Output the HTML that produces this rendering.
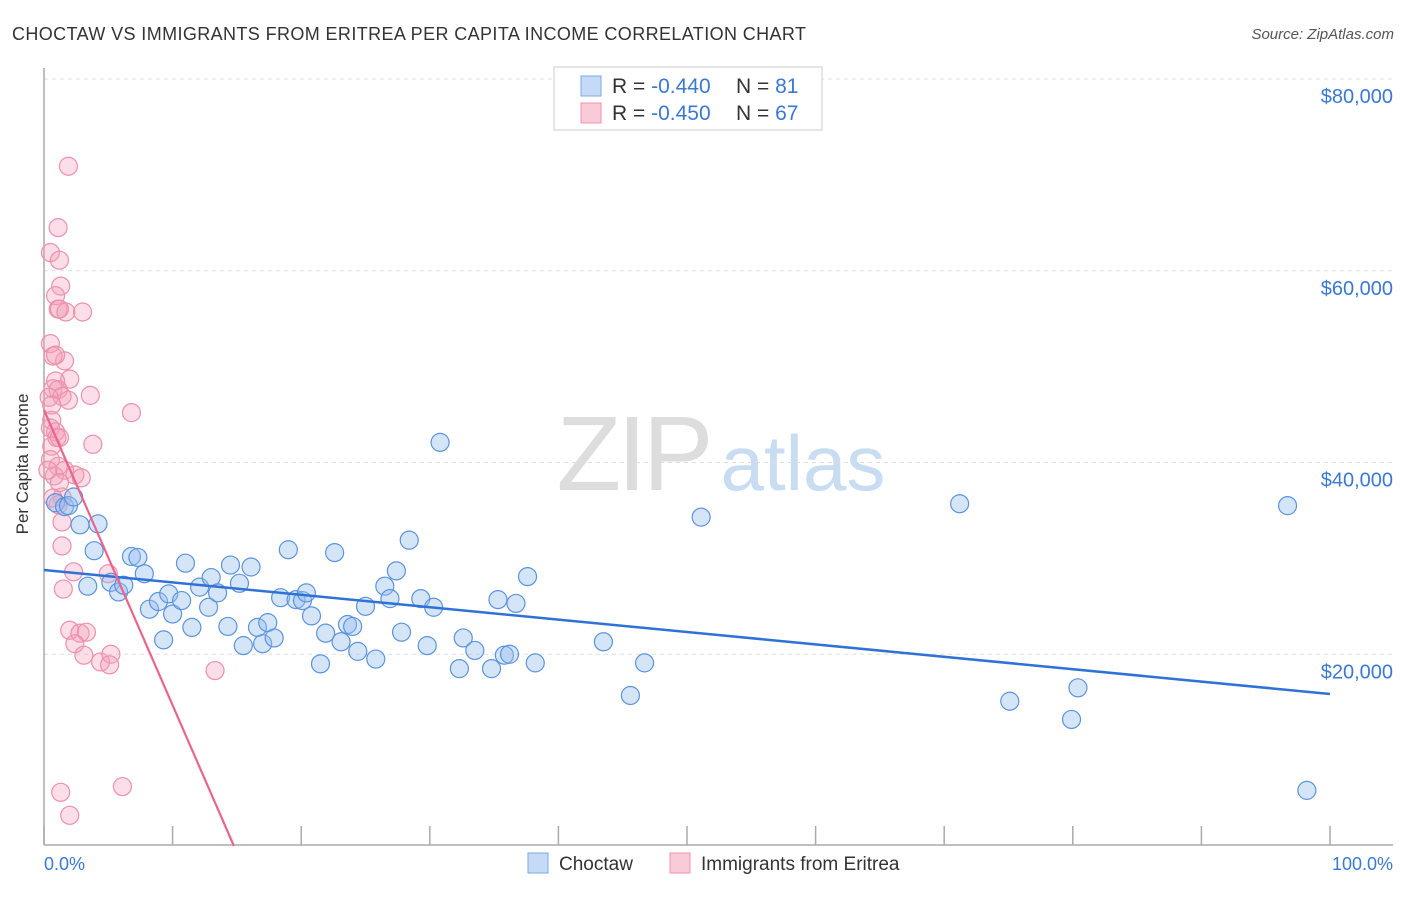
<!DOCTYPE html>
<html><head><meta charset="utf-8"><style>
body{margin:0;background:#fff;font-family:"Liberation Sans",sans-serif}
svg text{font-family:"Liberation Sans",sans-serif}
</style></head><body>
<svg width="1406" height="892" viewBox="0 0 1406 892" xmlns="http://www.w3.org/2000/svg">
<text x="12" y="40" font-size="18" fill="#333" textLength="794">CHOCTAW VS IMMIGRANTS FROM ERITREA PER CAPITA INCOME CORRELATION CHART</text>
<text x="1394" y="39" font-size="15" fill="#555" font-style="italic" text-anchor="end">Source: ZipAtlas.com</text>
<g>
<text x="633" y="490" font-size="106" fill="#ddd" font-family="Liberation Serif" text-anchor="middle" letter-spacing="-4">ZIP</text>
<text x="803" y="490" font-size="78" fill="#c8dcf2" text-anchor="middle">atlas</text>
</g>
<g id="grid"></g>
<line x1="44" y1="68" x2="44" y2="845" stroke="#aaa" stroke-width="1.5"/>
<line x1="44" y1="845" x2="1393" y2="845" stroke="#aaa" stroke-width="1.5"/>
<g id="xticks"></g>
<text x="20" y="456" font-size="17" fill="#333" text-anchor="middle" transform="rotate(-90 28 456)">Per Capita Income</text>
<text x="44" y="870" font-size="18" fill="#3a78d4">0.0%</text>
<text x="1393" y="870" font-size="18" fill="#3a78d4" text-anchor="end">100.0%</text>
<g id="pink"></g>
<g id="blue"></g>
<g id="lines"></g>
<g>
<rect x="554" y="67" width="268" height="63" fill="#fff" stroke="#ccc"/>
<rect x="581" y="76" width="20" height="20" fill="#c5dbf5" stroke="#7aaae6"/>
<rect x="581" y="103" width="20" height="20" fill="#f9cad8" stroke="#ec94b0"/>
<text x="612" y="93" font-size="21" fill="#333">R = <tspan fill="#3a78d4">-0.440</tspan><tspan x="736">N = </tspan><tspan fill="#3a78d4">81</tspan></text>
<text x="612" y="120" font-size="21" fill="#333">R = <tspan fill="#3a78d4">-0.450</tspan><tspan x="736">N = </tspan><tspan fill="#3a78d4">67</tspan></text>
</g>
<g>
<rect x="528" y="853" width="20" height="20" fill="#c5dbf5" stroke="#7aaae6"/>
<text x="559" y="870" font-size="19" fill="#333">Choctaw</text>
<rect x="670" y="853" width="20" height="20" fill="#f9cad8" stroke="#ec94b0"/>
<text x="701" y="870" font-size="19" fill="#333">Immigrants from Eritrea</text>
</g>
</svg>
<script>
const yTicks=[20000,40000,60000,80000];
const yTickLabels=["$20,000","$40,000","$60,000","$80,000"];
const xTickPct=[0,10,20,30,40,50,60,70,80,90,100];
const blueX=[0.9,1.6,1.9,2.3,2.8,4.2,3.9,3.4,5.2,5.8,6.2,6.8,7.3,7.8,8.2,8.9,9.3,9.7,10.0,10.7,11.0,11.5,12.1,12.8,13.0,13.5,14.3,14.5,15.2,15.5,16.1,16.6,17.0,17.4,17.9,18.4,19.0,19.6,20.1,20.4,20.8,21.5,21.9,22.6,23.1,23.6,24.0,24.4,25.0,25.8,26.5,26.9,27.4,27.8,28.4,29.3,29.8,30.3,30.8,32.3,32.6,33.5,34.8,35.3,35.8,36.2,36.7,37.6,38.2,43.5,45.6,46.7,51.1,71.2,75.1,79.9,80.4,96.7,98.2];
const blueY=[35.8,35.4,35.5,36.4,33.5,33.6,30.8,27.1,27.5,26.5,27.2,30.2,30.1,28.4,24.7,25.5,21.5,26.3,24.2,25.6,29.5,22.8,27.0,24.9,28.0,26.4,22.9,29.3,27.4,20.9,29.1,22.8,21.1,23.3,21.7,25.9,30.9,25.7,25.6,26.4,24.0,19.0,22.2,30.6,21.3,23.1,22.9,20.3,25.0,19.5,27.1,25.8,28.7,22.3,31.9,25.8,20.9,24.9,42.1,18.5,21.7,20.4,18.5,25.7,19.9,20.0,25.3,28.1,19.1,21.3,15.7,19.1,34.3,35.7,15.1,13.2,16.5,35.5,5.8];
const pinkX=[1.9,1.1,0.5,1.2,1.3,0.9,1.1,1.2,1.7,3.0,0.5,1.6,0.7,2.0,0.9,0.7,1.1,3.6,1.4,0.4,0.6,1.9,6.8,0.6,0.5,0.9,1.0,1.2,3.8,0.6,0.5,1.1,1.6,2.4,2.9,0.8,1.4,1.1,1.4,1.4,2.3,1.5,5.0,2.0,2.8,3.3,2.4,3.1,4.4,5.2,5.1,13.3,1.3,6.1,2.0,0.7,1.2,0.3,0.9];
const pinkY=[70.9,64.5,61.9,61.1,58.4,57.4,56.0,56.0,55.7,55.7,52.4,50.6,51.1,48.7,48.5,47.7,47.6,47.0,46.9,46.8,46.0,46.5,45.2,44.4,43.6,43.2,42.6,42.6,41.9,41.7,40.3,39.6,39.2,38.7,38.4,38.6,36.4,35.6,33.8,31.3,28.6,26.8,28.4,22.5,22.2,22.3,21.1,19.9,19.2,20.0,18.9,18.3,5.6,6.2,3.2,36.3,37.9,39.2,51.2];
const blueLine=[28790,15854];   // y at 0% and 100%
const pinkLine=[45476,14.77];   // y at 0%, x where y=0
const X=p=>44+p*12.86, Y=v=>846-v*0.0095875;
const NS="http://www.w3.org/2000/svg";
function mk(t,a,parent){const e=document.createElementNS(NS,t);for(const k in a)e.setAttribute(k,a[k]);parent.appendChild(e);return e;}
const grid=document.getElementById('grid');
yTicks.forEach((v,i)=>{
 const l=mk('line',{x1:44,x2:1393,y1:Y(v),y2:Y(v),stroke:'#ddd','stroke-dasharray':'4 4'},grid);
 
 
 const t=mk('text',{x:1393,y:Y(v)+24,'font-size':20,fill:'#3a78d4','text-anchor':'end'},grid);
 t.textContent=yTickLabels[i];
 
 
});
const xt=document.getElementById('xticks');
xTickPct.forEach(p=>{
 const l=mk('line',{x1:X(p),x2:X(p),y1:826,y2:845,stroke:'#aaa','stroke-width':1.5},xt);
 
 
});
const pg=document.getElementById('pink');
pinkX.forEach((x,i)=>{
 const c=mk('circle',{cx:X(x),cy:Y(pinkY[i]*1000),r:9,fill:'rgba(244,160,185,0.35)',stroke:'#ec90ad','stroke-width':1.2},pg);
 
 
});
const bg=document.getElementById('blue');
blueX.forEach((x,i)=>{
 const c=mk('circle',{cx:X(x),cy:Y(blueY[i]*1000),r:9,fill:'rgba(150,190,238,0.4)',stroke:'#5b93dd','stroke-width':1.2},bg);
 
 
});
const lg=document.getElementById('lines');
const bl=mk('line',{x1:X(0),y1:Y(blueLine[0]),x2:X(100),y2:Y(blueLine[1]),stroke:'#2f72d6','stroke-width':2.5},lg);


const pl=mk('line',{x1:X(0),y1:Y(pinkLine[0]),x2:X(pinkLine[1]),y2:Y(0),stroke:'#e8668e','stroke-width':2.2},lg);


</script>
</body></html>
